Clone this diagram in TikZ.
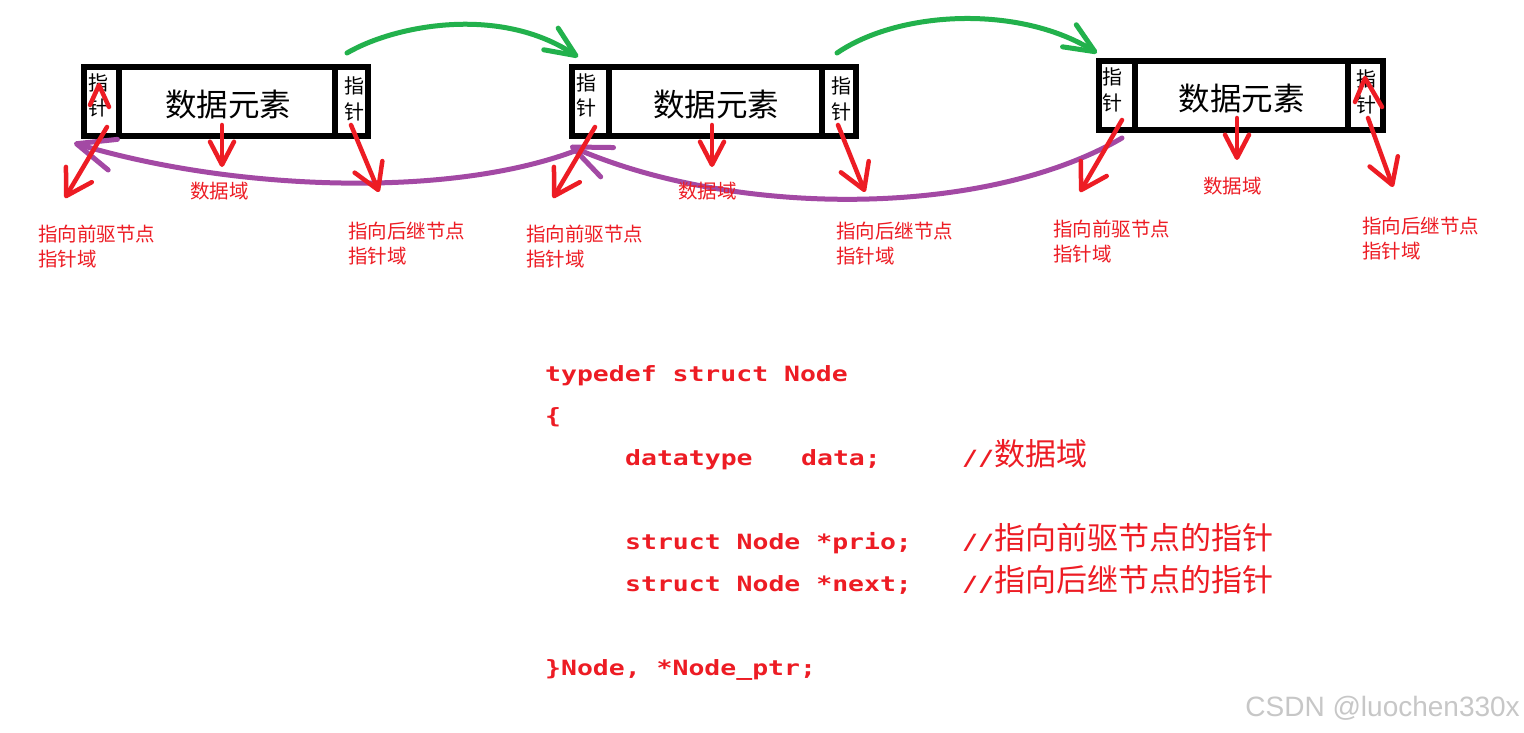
\documentclass[tikz,border=0pt]{standalone}
\usepackage{fontspec}
\usetikzlibrary{arrows.meta}
\newfontfamily\cjk{Noto Sans CJK SC}
\newfontfamily\codefont{DejaVu Sans Mono}[FakeStretch=1.26]
\newfontfamily\wmfont{Liberation Sans}
\definecolor{pred}{HTML}{ED1C24}
\definecolor{pgreen}{HTML}{22B14C}
\definecolor{ppurple}{HTML}{A349A4}
\tikzset{
  cell/.style={draw=black, line width=6pt, inner sep=0pt, minimum height=69pt},
  celltxt/.style={font=\cjk\fontsize{20}{25.5}\selectfont, align=center, inner sep=0pt},
  datatxt/.style={font=\cjk\fontsize{31.5}{32}\selectfont, inner sep=0pt},
  rline/.style={draw=pred, line width=4.5pt, line cap=round, line join=round},
  rarrow/.style={rline, -{Straight Barb[length=25pt, width=30pt, round]}},
  darrow/.style={rline, -{Straight Barb[length=23pt, width=24pt, round]}},
  parrow/.style={draw=ppurple, line width=5pt, line cap=round, -{Straight Barb[length=38pt, width=32pt, round]}},
  garrow/.style={draw=pgreen, line width=5pt, line cap=round, -{Straight Barb[length=30pt, width=26pt, round]}},
  lbl/.style={text=pred, font=\cjk\fontsize{19.5}{25}\selectfont, inner sep=0pt, align=left, anchor=north west},
  code/.style={text=pred, font=\codefont\bfseries\fontsize{21}{21}\selectfont, inner sep=0pt, anchor=base west},
  cmt/.style={text=pred, font=\cjk\fontsize{31}{31}\selectfont, inner sep=0pt, anchor=base west},
}
\newcommand{\slashes}{{\codefont\bfseries\fontsize{21}{21}\selectfont //}}
\begin{document}
\begin{tikzpicture}[x=1pt, y=-1pt]
\useasboundingbox[fill=white] (0,0) rectangle (1524,733);

% ---------- node 1 ----------
\node[cell, minimum width=35pt]  (p1) at (101.5,102) {};
\node[cell, minimum width=216pt] (d1) at (227,102) {};
\node[cell, minimum width=33pt]  (n1) at (351.5,102) {};
\node[celltxt] (tp1) at (98.5,95.5) {指\\针};
\node[datatxt] (td1) at (228,105) {数据元素};
\node[celltxt] (tn1) at (354,99) {指\\针};

% ---------- node 2 ----------
\node[cell, minimum width=36.5pt] (p2) at (590.25,101.5) {};
\node[cell, minimum width=213pt]  (d2) at (715,101.5) {};
\node[cell, minimum width=34.5pt] (n2) at (838.75,101.5) {};
\node[celltxt] (tp2) at (586.5,95.5) {指\\针};
\node[datatxt] (td2) at (716,105) {数据元素};
\node[celltxt] (tn2) at (841,99) {指\\针};

% ---------- node 3 ----------
\node[cell, minimum width=35.5pt] (p3) at (1116.75,95.5) {};
\node[cell, minimum width=213pt]  (d3) at (1241,95.5) {};
\node[cell, minimum width=35.5pt] (n3) at (1365.25,95.5) {};
\node[celltxt] (tp3) at (1112.5,90) {指\\针};
\node[datatxt] (td3) at (1241.5,99) {数据元素};
\node[celltxt] (tn3) at (1366.5,92) {指\\针};

% ---------- green arrows (next) ----------
\coordinate (g1s) at (347,53);  \coordinate (g1e) at (578,57);
\coordinate (g2s) at (837,53);  \coordinate (g2e) at (1097,53);
\draw[garrow] (g1s) .. controls (395,25) and (500,5) .. (g1e);
\draw[garrow] (g2s) .. controls (900,10) and (1020,5) .. (g2e);

% ---------- purple arrows (prio) ----------
\coordinate (c3s) at (1122,138); \coordinate (c2t) at (570,146);
\coordinate (c2s) at (580,149);  \coordinate (c1t) at (74,143);
\draw[parrow] (c3s) .. controls (985,218) and (735,218) .. (c2t);
\draw[parrow] (c2s) .. controls (450,200) and (230,190) .. (c1t);

% ---------- red arrows ----------
% node 1
\draw[rline] (90,105) -- (99,85) -- (109,107);
\coordinate (a1s) at (107,127);  \coordinate (a1e) at (65,198);
\coordinate (b1s) at (222,125);  \coordinate (b1e) at (222,167);
\coordinate (e1s) at (351,125);  \coordinate (e1e) at (379,192);
\draw[rarrow] (a1s) -- (a1e);
\draw[darrow] (b1s) -- (b1e);
\draw[rarrow] (e1s) -- (e1e);
% node 2
\coordinate (a2s) at (595,127);  \coordinate (a2e) at (553,198);
\coordinate (b2s) at (712,125);  \coordinate (b2e) at (712,167);
\coordinate (e2s) at (838,125);  \coordinate (e2e) at (865,192);
\draw[rarrow] (a2s) -- (a2e);
\draw[darrow] (b2s) -- (b2e);
\draw[rarrow] (e2s) -- (e2e);
% node 3
\draw[rline] (1355,102) -- (1365,78) -- (1382,107);
\coordinate (a3s) at (1122,120); \coordinate (a3e) at (1080,192);
\coordinate (b3s) at (1237,118); \coordinate (b3e) at (1237,160);
\coordinate (e3s) at (1368,118); \coordinate (e3e) at (1393,187);
\draw[rarrow] (a3s) -- (a3e);
\draw[darrow] (b3s) -- (b3e);
\draw[rarrow] (e3s) -- (e3e);

% ---------- labels ----------
\node[lbl] (l1a) at (38,225)   {指向前驱节点\\指针域};
\node[lbl] (l1b) at (190,182)  {数据域};
\node[lbl] (l1c) at (348,222)  {指向后继节点\\指针域};
\node[lbl] (l2a) at (526,225)  {指向前驱节点\\指针域};
\node[lbl] (l2b) at (678,182)  {数据域};
\node[lbl] (l2c) at (836,222)  {指向后继节点\\指针域};
\node[lbl] (l3a) at (1053,220) {指向前驱节点\\指针域};
\node[lbl] (l3b) at (1203,177) {数据域};
\node[lbl] (l3c) at (1362,217) {指向后继节点\\指针域};

% ---------- code ----------
\node[code] (k1)  at (545,381) {typedef struct Node};
\node[code] (k2)  at (545,423) {\{};
\node[code] (k3a) at (625,465) {datatype};
\node[code] (k3b) at (801,465) {data;};
\node[cmt]  (k3c) at (962,465) {\slashes 数据域};
\node[code] (k4a) at (625,549) {struct Node *prio;};
\node[cmt]  (k4c) at (962,549) {\slashes 指向前驱节点的指针};
\node[code] (k5a) at (625,591) {struct Node *next;};
\node[cmt]  (k5c) at (962,591) {\slashes 指向后继节点的指针};
\node[code] (k6)  at (545,675) {\}Node, *Node\_ptr;};

% ---------- watermark ----------
\node[text=black!22, font=\wmfont\fontsize{28}{28}\selectfont, anchor=east, inner sep=0pt] (wm) at (1520,708) {CSDN @luochen330x};
\end{tikzpicture}
\end{document}
